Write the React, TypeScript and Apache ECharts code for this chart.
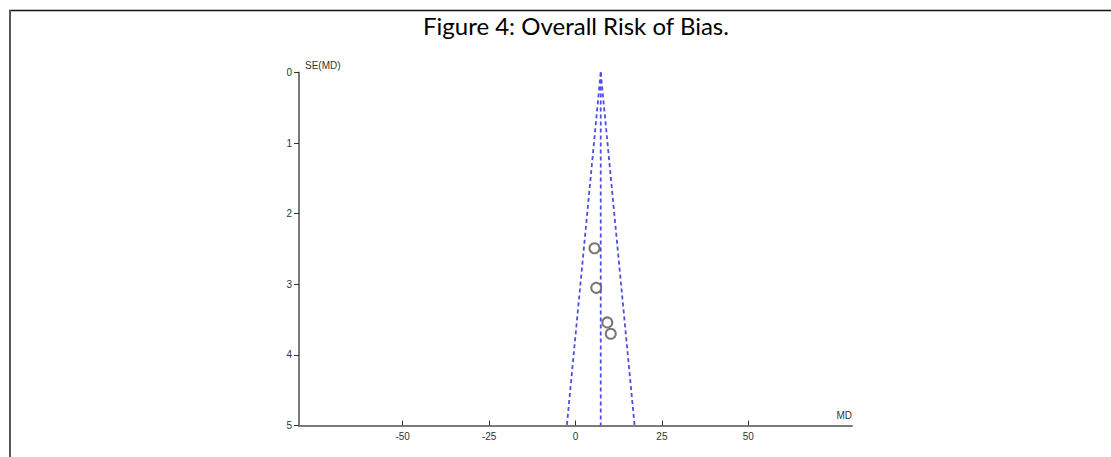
import React, { useEffect, useRef } from "react";
import * as echarts from "echarts";

const titleText = "Figure 4: Overall Risk of Bias.";
const studyMD = [5.5, 6.0, 9.2, 10.2];
const studySE = [2.49, 3.05, 3.54, 3.7];
const pooledMD = 7.3;
const funnelLeftAtMax = -2.5;
const funnelRightAtMax = 17.1;
const seMax = 5;
const xTicks = [-50, -25, 0, 25, 50];
const xRange = [-80, 80];

export default function App() {
  const ref = useRef<HTMLDivElement>(null);
  useEffect(() => {
    if (!ref.current) return;
    const chart = echarts.init(ref.current, undefined, { renderer: "svg" });
    const lineStyle = { color: "#4d4de6", width: 1.8, type: [4, 3] as any };
    chart.setOption({
      animation: false,
      backgroundColor: "#ffffff",
      title: {
        text: titleText,
        left: 418,
        top: 8,
        textStyle: { fontFamily: "Lato", fontSize: 24, fontWeight: "normal", color: "#000" },
      },
      grid: { left: 299, right: 259, top: 72.5, bottom: 31.5, containLabel: false },
      xAxis: {
        type: "value",
        min: xRange[0],
        max: xRange[1],
        name: "MD",
        nameLocation: "end",
        nameGap: 0,
        nameTextStyle: { align: "right", verticalAlign: "bottom", padding: [0, 0, 5, 0], fontFamily: "Liberation Sans", fontSize: 10, color: "#333" },
        splitLine: { show: false },
        axisLine: { onZero: false, lineStyle: { color: "#7a7a7a", width: 2 } },
        axisTick: { show: true, inside: true, length: 5, customValues: xTicks, lineStyle: { color: "#333", width: 1 } },
        axisLabel: { customValues: xTicks, margin: 6, fontFamily: "Liberation Sans", fontSize: 10, color: "#333" },
      },
      yAxis: {
        type: "value",
        inverse: true,
        min: 0,
        max: seMax,
        interval: 1,
        name: "SE(MD)",
        nameLocation: "start",
        nameGap: 2,
        nameTextStyle: { align: "left", verticalAlign: "bottom", padding: [0, 0, 0, 6], fontFamily: "Liberation Sans", fontSize: 10, color: "#333" },
        splitLine: { show: false },
        axisLine: { show: true, onZero: false, lineStyle: { color: "#7a7a7a", width: 2 } },
        axisTick: { show: true, length: 5, lineStyle: { color: "#333", width: 1 } },
        axisLabel: { margin: 7, fontFamily: "Liberation Sans", fontSize: 10, color: "#333" },
      },
      graphic: [
        { type: "line", shape: { x1: 9, y1: 10.5, x2: 1111, y2: 10.5 }, style: { stroke: "#111", lineWidth: 1.5 } },
        { type: "line", shape: { x1: 10, y1: 10, x2: 10, y2: 457 }, style: { stroke: "#555", lineWidth: 2 } },
      ],
      series: [
        { type: "line", symbol: "none", lineStyle, data: [[pooledMD, 0], [funnelLeftAtMax, seMax]] },
        { type: "line", symbol: "none", lineStyle, data: [[pooledMD, 0], [funnelRightAtMax, seMax]] },
        { type: "line", symbol: "none", lineStyle, data: [[pooledMD, 0], [pooledMD, seMax]] },
        {
          type: "scatter",
          symbol: "emptyCircle",
          symbolSize: 10,
          itemStyle: { color: "#555", borderColor: "#555", borderWidth: 1.2 },
          data: studyMD.map((m, i) => [m, studySE[i]]),
          z: 5,
        },
      ],
    });
    return () => chart.dispose();
  }, []);
  return <div ref={ref} style={{ position: "fixed", left: 0, top: 0, width: 1111, height: 457 }} />;
}
